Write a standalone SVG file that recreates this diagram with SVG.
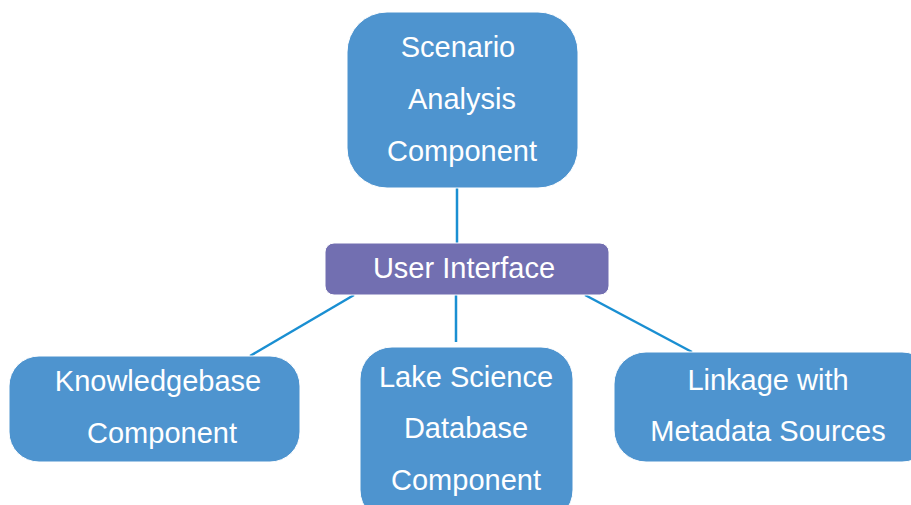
<svg xmlns="http://www.w3.org/2000/svg" width="911" height="505" viewBox="0 0 911 505">
<style>
.box{fill:#4e94cf;stroke:#ffffff;stroke-width:1}
.ui{fill:#726fb1;stroke:#ffffff;stroke-width:1}
.lbl{font-family:"Liberation Sans",Arial,sans-serif;font-size:29px;fill:#ffffff;text-anchor:middle}
.con{stroke:#1a8fd2;stroke-width:2.5;fill:none}
</style>
<rect width="911" height="505" fill="#ffffff"/>
<g id="connectors">
<line class="con" x1="457" y1="188" x2="457" y2="243"/>
<line class="con" x1="354" y1="295" x2="250" y2="356"/>
<line class="con" x1="456" y1="295" x2="456" y2="342"/>
<line class="con" x1="585" y1="295" x2="692" y2="352"/>
</g>
<g id="scenario">
<rect class="box" x="347" y="12" width="231" height="176" rx="40" ry="40"/>
<text class="lbl" x="458" y="57">Scenario</text>
<text class="lbl" x="462" y="109">Analysis</text>
<text class="lbl" x="462" y="161">Component</text>
</g>
<g id="ui">
<rect class="ui" x="325" y="243" width="284" height="52" rx="9" ry="9"/>
<text class="lbl" x="464" y="278">User Interface</text>
</g>
<g id="knowledgebase">
<rect class="box" x="9" y="356" width="291" height="106" rx="30" ry="30"/>
<text class="lbl" x="158" y="391">Knowledgebase</text>
<text class="lbl" x="162" y="443">Component</text>
</g>
<g id="lakescience">
<rect class="box" x="360" y="347" width="213" height="175" rx="32" ry="32"/>
<text class="lbl" x="466" y="387">Lake Science</text>
<text class="lbl" x="466" y="438">Database</text>
<text class="lbl" x="466" y="490">Component</text>
</g>
<g id="linkage">
<rect class="box" x="614" y="352" width="320" height="110" rx="32" ry="32"/>
<text class="lbl" x="768" y="390">Linkage with</text>
<text class="lbl" x="768" y="441">Metadata Sources</text>
</g>
</svg>
